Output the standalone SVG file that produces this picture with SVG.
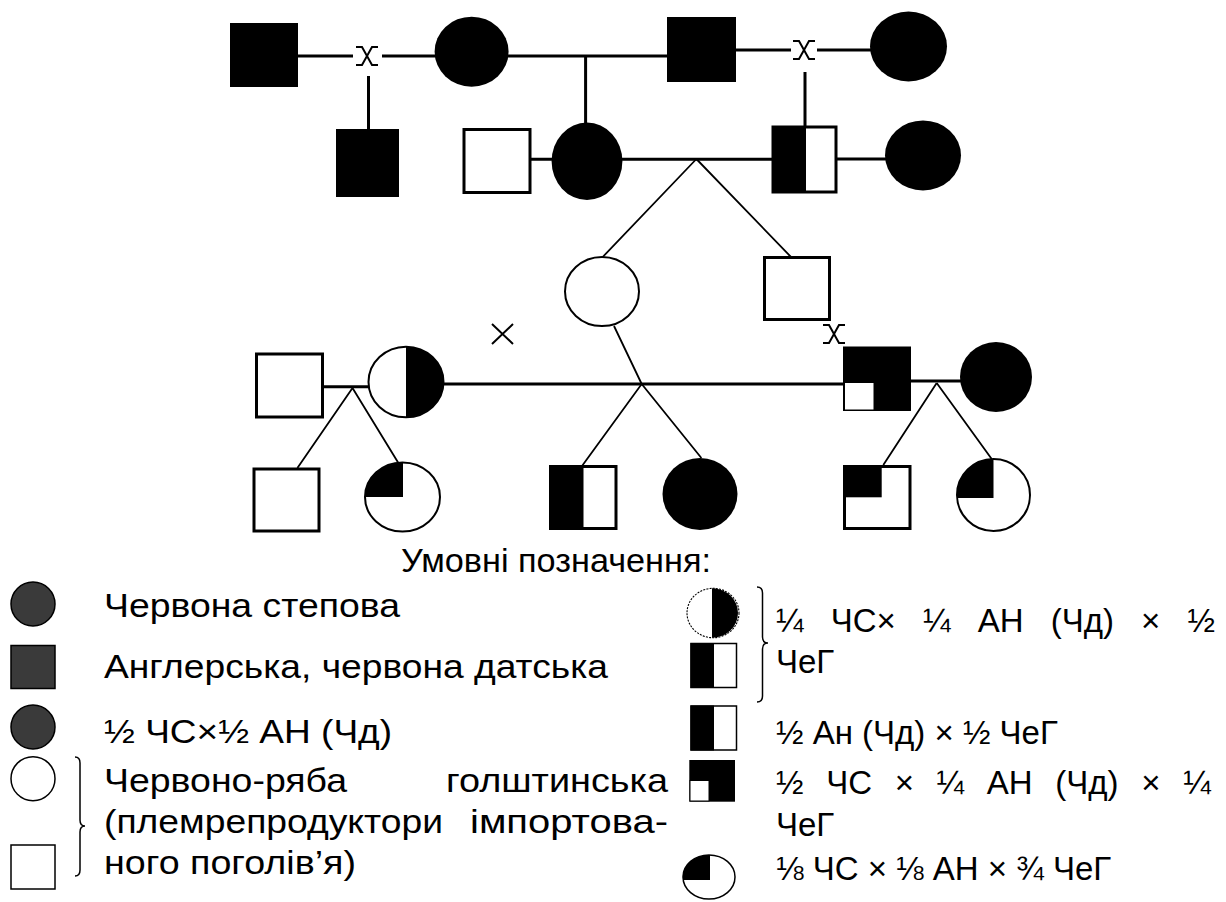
<svg xmlns="http://www.w3.org/2000/svg" xmlns:xlink="http://www.w3.org/1999/xlink" width="1226" height="902" viewBox="0 0 1226 902">
<style>
.ln{stroke:#000;stroke-width:3;fill:none}
.dg{stroke:#000;stroke-width:1.8;fill:none}
.sq{fill:#fff;stroke:#000;stroke-width:3}
.bk{fill:#000;stroke:none}
.oc{fill:#fff;stroke:#000;stroke-width:2}
.cr{fill:none;stroke:#000;stroke-width:2}
.gy{fill:#3a3a3a;stroke:#000;stroke-width:1.5}
.lw{fill:#fff;stroke:#000;stroke-width:1.5}
.lb{fill:none;stroke:#000;stroke-width:1.5}
.t{font-family:"Liberation Sans",Arial,sans-serif;font-size:33px;fill:#000}
</style>
<defs>
<path id="crossS" d="M-11,-9 H-5 L5,9 H11 M11,-9 H5 L-5,9 H-11"/>
<path id="crossP" d="M-10.5,-10 L10.5,10 M10.5,-10 L-10.5,10"/>
</defs>
<rect width="1226" height="902" fill="#fff"/>

<g id="connectors">
<path class="ln" d="M298,56 H353 M382,56 H436 M508,56 H668"/>
<path class="ln" d="M735,50 H791 M817,50 H871"/>
<path class="ln" d="M368.5,76 V129 M585.6,56 V123 M805,72 V126"/>
<path class="ln" d="M530,159.3 H552 M622,159.3 H772 M836,159 H886"/>
<path class="dg" d="M696.4,159 L602.7,257 M696.4,159 L791,257"/>
<path class="ln" d="M443,384 H844"/>
<path class="ln" d="M323,386.7 H369"/>
<path class="ln" d="M911,381 H961"/>
<path class="dg" d="M352.5,388 L297.4,468 M352.5,388 L398.4,463"/>
<path class="dg" d="M614,326 L641.7,384 L582,466 M641.7,384 L701.4,458"/>
<path class="dg" d="M936.7,383 L883.3,465 M936.7,383 L991.7,459"/>
<use xlink:href="#crossS" href="#crossS" class="cr" x="367" y="56"/>
<use xlink:href="#crossS" href="#crossS" class="cr" x="804" y="50"/>
<use xlink:href="#crossP" href="#crossP" class="cr" x="502.5" y="334"/>
<use xlink:href="#crossS" href="#crossS" class="cr" x="834" y="334"/>
</g>

<g id="g1-sire1"><rect class="bk" x="230" y="23" width="68" height="64"/></g>
<g id="g1-dam1"><ellipse class="bk" cx="471.6" cy="51.7" rx="37" ry="35"/></g>
<g id="g1-sire2"><rect class="bk" x="667" y="17" width="69" height="65"/></g>
<g id="g1-dam2"><ellipse class="bk" cx="908.5" cy="46.5" rx="38.5" ry="35"/></g>

<g id="g2-son"><rect class="bk" x="336" y="129" width="63" height="68"/></g>
<g id="g2-sire"><rect class="sq" x="464" y="129.5" width="66" height="63"/></g>
<g id="g2-dam"><ellipse class="bk" cx="587" cy="161.3" rx="35.4" ry="38.7"/></g>
<g id="g2-halfsq"><rect class="sq" x="773" y="127" width="63" height="65"/><rect class="bk" x="772" y="126" width="34" height="67"/></g>
<g id="g2-dam2"><ellipse class="bk" cx="923" cy="155.4" rx="38" ry="35"/></g>

<g id="g3-dam"><ellipse class="oc" cx="602" cy="291.5" rx="37" ry="34.5"/></g>
<g id="g3-sire"><rect class="sq" x="764.5" y="257.5" width="65" height="62"/></g>

<g id="g4-sire-left"><rect class="sq" x="256.5" y="354" width="66" height="63"/></g>
<g id="g4-dam-half"><ellipse class="oc" cx="406" cy="382" rx="37.5" ry="35.3"/><path class="bk" d="M406,346.7 A37.5,35.3 0 0 1 406,417.3 Z"/></g>
<g id="g4-sire-right"><rect class="bk" x="843" y="346.5" width="68" height="64.5"/><rect fill="#fff" x="845" y="383" width="28.5" height="26.5"/></g>
<g id="g4-dam-right"><ellipse class="bk" cx="996" cy="377" rx="36" ry="35"/></g>

<g id="g5-son1"><rect class="sq" x="254" y="469" width="65" height="62"/></g>
<g id="g5-dau1"><ellipse class="oc" cx="402.5" cy="497" rx="37.5" ry="34.5"/><path class="bk" d="M403,497 L365,497 A37.5,34.5 0 0 1 402.5,462.5 L403,462.5 Z"/></g>
<g id="g5-son2"><rect class="sq" x="550.5" y="466.5" width="65.5" height="62"/><rect class="bk" x="549" y="465.5" width="34.5" height="64"/></g>
<g id="g5-dau2"><ellipse class="bk" cx="700" cy="494" rx="37.5" ry="36"/></g>
<g id="g5-son3"><rect class="sq" x="844.5" y="466.5" width="65.5" height="62"/><rect class="bk" x="843.3" y="465" width="38.4" height="32.3"/></g>
<g id="g5-dau3"><ellipse class="oc" cx="993.5" cy="495" rx="36.5" ry="36"/><path class="bk" d="M993.5,498 L957,498 A36.5,36 0 0 1 993.5,459 Z"/></g>

<g id="legend">
<text class="t" x="556" y="572" text-anchor="middle" textLength="310" lengthAdjust="spacingAndGlyphs">Умовні позначення:</text>
<circle class="gy" cx="33" cy="604" r="22"/>
<rect class="gy" x="11" y="645.5" width="44" height="43"/>
<circle class="gy" cx="33" cy="727" r="22"/>
<circle class="lw" cx="33" cy="778.7" r="22"/>
<rect class="lw" x="11" y="845" width="44" height="44"/>
<path class="lb" d="M75,757 Q80,757 80,763 V820 Q80,826 85,826 Q80,826 80,832 V870 Q80,876 75,876"/>
<text class="t" x="104" y="617" textLength="296" lengthAdjust="spacingAndGlyphs">Червона степова</text>
<text class="t" x="104" y="678" textLength="504" lengthAdjust="spacingAndGlyphs">Англерська, червона датська</text>
<text class="t" x="104" y="743" textLength="288" lengthAdjust="spacingAndGlyphs">½ ЧС×½ АН (Чд)</text>
<text class="t" x="104" y="792" textLength="243" lengthAdjust="spacingAndGlyphs">Червоно-ряба</text>
<text class="t" x="446" y="792" textLength="222" lengthAdjust="spacingAndGlyphs">голштинська</text>
<text class="t" x="104" y="833" textLength="339" lengthAdjust="spacingAndGlyphs">(племрепродуктори</text>
<text class="t" x="470" y="833" textLength="198" lengthAdjust="spacingAndGlyphs">імпортова-</text>
<text class="t" x="104" y="874" textLength="252" lengthAdjust="spacingAndGlyphs">ного поголів’я)</text>

<ellipse cx="713" cy="613" rx="26" ry="24.7" fill="#fff" stroke="#000" stroke-width="1.1" stroke-dasharray="2 1.2"/>
<path class="bk" d="M712,588.3 A26,24.7 0 0 1 712,637.7 Z"/>
<path class="lb" d="M757,587 Q762.5,587 762.5,593 V637 Q762.5,643 768,643 Q762.5,643 762.5,649 V696 Q762.5,702 757,702"/>
<rect class="lw" x="691" y="643.5" width="45.5" height="44"/><rect class="bk" x="690.5" y="643" width="23.5" height="45"/>
<rect class="lw" x="691" y="706" width="45.5" height="44"/><rect class="bk" x="690.5" y="705.5" width="23.5" height="45"/>
<rect class="bk" x="689.3" y="760" width="45.7" height="41.7"/><rect fill="#fff" stroke="#000" stroke-width="1" x="690" y="780.5" width="19" height="20.5"/>
<ellipse class="lw" cx="709" cy="877" rx="26" ry="22"/>
<path class="bk" d="M710,880 L683,880 A26,22 0 0 1 710,855 Z"/>
<text class="t" x="776" y="632" word-spacing="18">¼ ЧС× ¼ АН (Чд) × ½</text>
<text class="t" x="776" y="673">ЧеГ</text>
<text class="t" x="776" y="744">½ Ан (Чд) × ½ ЧеГ</text>
<text class="t" x="776" y="794" word-spacing="13.5">½ ЧС × ¼ АН (Чд) × ¼</text>
<text class="t" x="776" y="836">ЧеГ</text>
<text class="t" x="776" y="880">⅛ ЧС × ⅛ АН × ¾ ЧеГ</text>
</g>
</svg>
